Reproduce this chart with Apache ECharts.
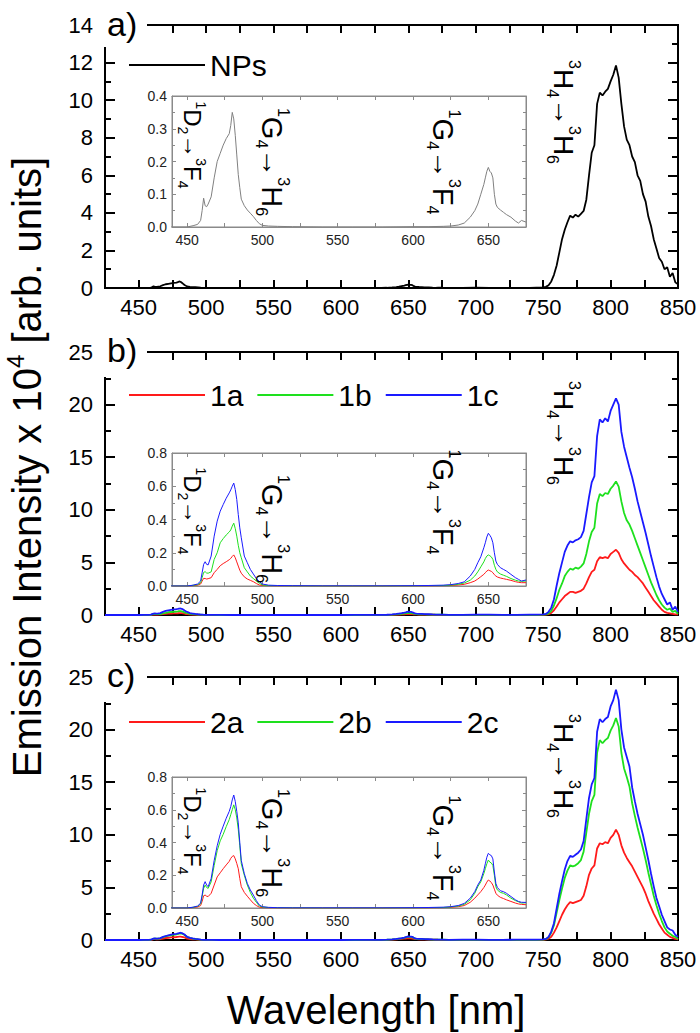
<!DOCTYPE html>
<html><head><meta charset="utf-8">
<script src="https://cdn.jsdelivr.net/npm/echarts@6/dist/echarts.min.js"></script>
<style>html,body{margin:0;padding:0;background:#fff}#c{width:700px;height:1033px}</style>
</head><body><div id="c"></div>
<script>
// ---------- DATA (intensity in units of 10^4) ----------
const visWl = [425, 440, 450, 454, 457, 459, 460, 461, 462, 463, 464, 466, 468, 470, 472, 474, 476, 478, 479, 480, 481,
  482, 483, 484, 485, 486, 488, 490, 492, 494, 496, 498, 500, 504, 510, 520, 540, 560, 580, 600, 610,
  620, 625, 630, 634, 638, 641, 643, 645, 647, 648, 649, 650, 651, 652, 653, 654, 655, 656, 658, 660,
  662, 665, 668, 670, 672, 675];
const nirWl = [680, 690, 700, 710, 720, 730, 740, 745,
  750, 752, 754, 756, 758, 760, 762, 764, 766, 768,
  770, 772, 774, 776, 778, 780, 782, 784, 786, 788,
  790, 792, 794, 796, 798, 800, 802, 804, 806, 808,
  810, 812, 814, 816, 818, 820, 822, 824, 826, 828,
  830, 832, 834, 836, 838, 840, 842, 844, 846, 848,
  850];
const npsVis = [0, 0, 0, 0.004, 0.008, 0.02, 0.05, 0.088, 0.065, 0.062, 0.07, 0.092, 0.15, 0.2, 0.225, 0.25, 0.27, 0.285, 0.31, 0.35, 0.33,
  0.28, 0.22, 0.16, 0.12, 0.085, 0.065, 0.052, 0.042, 0.032, 0.02, 0.01, 0.005, 0.003, 0.002, 0.001, 0, 0, 0, 0.001, 0.001,
  0.002, 0.003, 0.006, 0.012, 0.03, 0.05, 0.07, 0.1, 0.13, 0.15, 0.17, 0.182, 0.17, 0.165, 0.15, 0.1, 0.07, 0.06, 0.052, 0.045,
  0.038, 0.03, 0.018, 0.012, 0.02, 0.015];
const npsNir = [0.01, 0.01, 0.02, 0.01, 0.01, 0.01, 0.01, 0.02,
  0.03, 0.06, 0.15, 0.35, 0.7, 1.2, 1.9, 2.6, 3.1, 3.5,
  3.85, 3.75, 3.9, 3.8, 3.95, 4.1, 4.7, 6.0, 7.2, 7.6,
  9.8, 10.4, 10.25, 10.45, 10.6, 11.0, 11.35, 11.85, 11.2, 9.8,
  8.6, 7.9, 7.6, 7.0, 6.7, 6.0, 5.7, 5.0, 4.6, 3.8,
  3.3, 2.6, 2.1, 1.6, 1.4, 1.0, 1.1, 0.6, 0.8, 0.3,
  0.2];
const s1aVis = [0, 0, 0, 0.002, 0.005, 0.012, 0.03, 0.046, 0.045, 0.042, 0.044, 0.05, 0.08, 0.1, 0.122, 0.135, 0.146, 0.158, 0.166, 0.178, 0.187,
  0.17, 0.145, 0.12, 0.095, 0.077, 0.055, 0.042, 0.034, 0.026, 0.015, 0.006, 0.003, 0.002, 0.001, 0.001, 0, 0, 0, 0.001, 0.001,
  0.002, 0.003, 0.006, 0.01, 0.02, 0.03, 0.042, 0.056, 0.07, 0.08, 0.09, 0.096, 0.092, 0.088, 0.08, 0.068, 0.06, 0.054, 0.048, 0.044,
  0.04, 0.034, 0.026, 0.022, 0.02, 0.02];
const s1aNir = [0.01, 0.01, 0.01, 0.01, 0.01, 0.01, 0.01, 0.01,
  0.02, 0.04, 0.08, 0.2, 0.45, 0.8, 1.2, 1.5, 1.8, 2.0,
  2.2, 2.2, 2.1, 2.2, 2.3, 2.5, 3.0, 3.6, 4.1, 4.3,
  5.1, 5.5, 5.4, 5.5, 5.4, 5.8, 6.0, 6.2, 5.9, 5.3,
  4.9, 4.6, 4.3, 4.1, 3.8, 3.6, 3.3, 3.0, 2.6, 2.2,
  1.8, 1.4, 1.1, 0.8, 0.5, 0.3, 0.2, 0.15, 0.1, 0.05,
  0.05];
const s1bVis = [0, 0, 0, 0.004, 0.008, 0.02, 0.05, 0.082, 0.086, 0.078, 0.077, 0.085, 0.16, 0.2, 0.26, 0.285, 0.307, 0.325, 0.337, 0.36, 0.378,
  0.345, 0.3, 0.245, 0.2, 0.17, 0.11, 0.085, 0.06, 0.045, 0.03, 0.016, 0.006, 0.003, 0.002, 0.001, 0, 0, 0, 0.001, 0.002,
  0.003, 0.005, 0.01, 0.018, 0.035, 0.06, 0.085, 0.115, 0.145, 0.165, 0.18, 0.187, 0.182, 0.175, 0.16, 0.125, 0.1, 0.085, 0.072, 0.065,
  0.058, 0.045, 0.035, 0.03, 0.028, 0.03];
const s1bNir = [0.01, 0.02, 0.02, 0.02, 0.01, 0.02, 0.02, 0.02,
  0.03, 0.06, 0.15, 0.4, 0.9, 1.6, 2.4, 3.0, 3.7, 4.1,
  4.4, 4.3, 4.5, 4.4, 4.6, 4.9, 5.8, 7.0, 7.9, 8.3,
  10.6, 11.5, 11.3, 11.6, 11.5, 12.0, 12.3, 12.7, 12.2, 10.8,
  9.7, 9.0, 8.6, 8.0, 7.3, 6.6, 5.9, 5.2, 4.5, 3.8,
  3.1, 2.5, 1.9, 1.4, 1.0, 0.7, 0.5, 0.6, 0.3, 0.4,
  0.1];
const s1cVis = [0, 0, 0, 0.005, 0.012, 0.03, 0.08, 0.13, 0.146, 0.13, 0.127, 0.18, 0.3, 0.39, 0.45, 0.49, 0.528, 0.56, 0.578, 0.6, 0.619,
  0.58, 0.52, 0.43, 0.35, 0.29, 0.18, 0.14, 0.1, 0.072, 0.045, 0.026, 0.012, 0.005, 0.003, 0.002, 0.001, 0.001, 0.001, 0.002, 0.003,
  0.005, 0.008, 0.015, 0.025, 0.06, 0.1, 0.14, 0.176, 0.23, 0.26, 0.295, 0.317, 0.305, 0.29, 0.26, 0.2, 0.15, 0.13, 0.11, 0.1,
  0.09, 0.07, 0.05, 0.04, 0.03, 0.036];
const s1cNir = [0.02, 0.02, 0.03, 0.03, 0.02, 0.02, 0.03, 0.03,
  0.05, 0.1, 0.3, 0.7, 1.5, 2.8, 4.0, 5.0, 6.0, 6.6,
  7.0, 6.9, 7.1, 7.2, 7.4, 8.0, 9.6, 11.2, 12.6, 13.2,
  17.0, 18.6, 18.3, 18.7, 18.4, 19.4, 20.0, 20.6, 20.0, 17.4,
  16.0, 15.0, 14.0, 13.1, 12.0, 10.8, 9.8, 8.8, 7.8, 6.7,
  5.6, 4.6, 3.6, 2.7, 2.0, 1.5, 1.0, 1.2, 0.5, 0.8,
  0.3];
const s2aVis = [0, 0, 0, 0.003, 0.006, 0.015, 0.04, 0.075, 0.079, 0.072, 0.07, 0.09, 0.14, 0.19, 0.215, 0.24, 0.263, 0.285, 0.303, 0.315, 0.32,
  0.3, 0.272, 0.24, 0.18, 0.13, 0.095, 0.072, 0.05, 0.029, 0.015, 0.005, 0.002, 0.001, 0.001, 0, 0, 0, 0, 0.001, 0.001,
  0.002, 0.004, 0.008, 0.015, 0.035, 0.06, 0.08, 0.1, 0.125, 0.14, 0.158, 0.171, 0.165, 0.155, 0.14, 0.115, 0.09, 0.078, 0.065, 0.058,
  0.05, 0.04, 0.03, 0.025, 0.022, 0.02];
const s2aNir = [0.01, 0.01, 0.01, 0.01, 0.01, 0.01, 0.01, 0.01,
  0.02, 0.05, 0.12, 0.3, 0.7, 1.2, 1.8, 2.4, 2.9, 3.3,
  3.6, 3.5, 3.6, 3.7, 3.8, 4.2, 5.1, 6.2, 6.8, 7.1,
  8.7, 9.2, 9.1, 9.3, 9.2, 9.7, 10.0, 10.5, 10.0, 9.0,
  8.3, 7.8, 7.4, 7.0, 6.5, 6.0, 5.5, 5.0, 4.4, 3.7,
  3.1, 2.5, 2.0, 1.5, 1.1, 0.7, 0.5, 0.3, 0.2, 0.1,
  0.05];
const s2bVis = [0, 0, 0, 0.004, 0.01, 0.025, 0.07, 0.12, 0.14, 0.125, 0.12, 0.16, 0.26, 0.35, 0.41, 0.45, 0.497, 0.54, 0.57, 0.6, 0.63,
  0.6, 0.55, 0.48, 0.38, 0.27, 0.2, 0.14, 0.095, 0.06, 0.035, 0.012, 0.006, 0.003, 0.002, 0.001, 0, 0, 0, 0.001, 0.002,
  0.003, 0.006, 0.012, 0.022, 0.05, 0.09, 0.13, 0.16, 0.21, 0.24, 0.27, 0.293, 0.28, 0.275, 0.26, 0.2, 0.13, 0.11, 0.095, 0.09,
  0.08, 0.06, 0.045, 0.038, 0.03, 0.032];
const s2bNir = [0.02, 0.02, 0.02, 0.02, 0.02, 0.02, 0.02, 0.02,
  0.04, 0.08, 0.25, 0.7, 1.4, 2.6, 3.8, 4.9, 5.9, 6.6,
  7.1, 7.0, 7.1, 7.3, 7.6, 8.4, 10.2, 12.0, 13.2, 13.8,
  17.8, 19.0, 18.7, 19.0, 19.2, 19.9, 20.4, 21.1, 20.3, 17.8,
  16.3, 15.5, 14.6, 13.0, 11.8, 10.7, 9.7, 8.7, 7.6, 6.4,
  5.3, 4.2, 3.3, 2.5, 1.8, 1.2, 0.8, 0.6, 0.4, 0.3,
  0.1];
const s2cVis = [0, 0, 0, 0.005, 0.012, 0.03, 0.08, 0.14, 0.161, 0.14, 0.13, 0.18, 0.29, 0.38, 0.45, 0.5, 0.548, 0.59, 0.619, 0.66, 0.69,
  0.65, 0.59, 0.52, 0.4, 0.29, 0.21, 0.15, 0.11, 0.079, 0.045, 0.018, 0.008, 0.004, 0.002, 0.001, 0.001, 0.001, 0.001, 0.002, 0.003,
  0.005, 0.008, 0.015, 0.028, 0.06, 0.1, 0.14, 0.171, 0.23, 0.27, 0.31, 0.334, 0.325, 0.32, 0.3, 0.22, 0.15, 0.125, 0.105, 0.1,
  0.09, 0.07, 0.05, 0.04, 0.035, 0.034];
const s2cNir = [0.02, 0.03, 0.03, 0.02, 0.02, 0.03, 0.03, 0.03,
  0.05, 0.1, 0.3, 0.8, 1.6, 3.0, 4.4, 5.6, 6.7, 7.5,
  8.0, 7.9, 8.1, 8.3, 8.6, 9.4, 11.5, 13.5, 14.8, 15.4,
  19.8, 21.0, 20.7, 21.0, 21.2, 22.2, 22.8, 23.8, 22.8, 20.0,
  18.3, 17.4, 16.5, 14.5, 13.2, 12.0, 11.0, 10.0, 8.8, 7.6,
  6.3, 5.1, 4.0, 3.2, 2.4, 1.8, 1.2, 1.0, 0.9, 0.5,
  0.3];
const mainXTicks = [450, 500, 550, 600, 650, 700, 750, 800, 850];
const insetXLabels = [450, 500, 550, 600, 650];
const insetXTicks = [450, 475, 500, 525, 550, 575, 600, 625, 650, 675];
const panelLabels = ['a)', 'b)', 'c)'];
const legendA = ['NPs'];
const legendB = ['1a', '1b', '1c'];
const legendC = ['2a', '2b', '2c'];

// ---------- BUILD ----------
const FONT = "'Liberation Sans', Arial, 'DejaVu Sans', sans-serif";
const pairs = (xs, ys) => xs.map((x, i) => [x, ys[i]]);
const full = (v, n) => pairs(visWl, v).concat(pairs(nirWl, n));
const mainGrid = {show: true, borderColor: '#000', borderWidth: 2, backgroundColor: 'transparent'};
const insetGrid = {show: true, borderColor: '#8a8a8a', borderWidth: 1, backgroundColor: 'transparent'};
const grids = [
  Object.assign({left: 105, top: 25, width: 573, height: 263}, mainGrid),
  Object.assign({left: 105, top: 352, width: 573, height: 263}, mainGrid),
  Object.assign({left: 105, top: 677, width: 573, height: 263}, mainGrid),
  Object.assign({left: 172, top: 96, width: 354, height: 131}, insetGrid),
  Object.assign({left: 172, top: 453, width: 354, height: 133}, insetGrid),
  Object.assign({left: 172, top: 777, width: 354, height: 131}, insetGrid)
];
const xAxes = [], yAxes = [];
function mainAxes(gi, ymax, yint) {
  ['bottom', 'top'].forEach(pos => xAxes.push({
    type: 'value', gridIndex: gi, position: pos, min: 425, max: 850, interval: 25,
    axisLine: {show: true, onZero: false, lineStyle: {color: '#000', width: 2, opacity: 1}},
    axisTick: {show: true, inside: true, length: 8, lineStyle: {color: '#000', width: 2, opacity: 1}},
    axisLabel: {show: pos === 'bottom', fontSize: 22, color: '#000', margin: 8, fontFamily: FONT,
      formatter: v => mainXTicks.indexOf(v) >= 0 ? String(v) : ''},
    splitLine: {show: false}
  }));
  ['left', 'right'].forEach(pos => yAxes.push({
    type: 'value', gridIndex: gi, position: pos, min: 0, max: ymax, interval: yint,
    axisLine: {show: true, onZero: false, lineStyle: {color: '#000', width: 2, opacity: 1}},
    axisTick: {show: true, inside: true, length: 10, lineStyle: {color: '#000', width: 2, opacity: 1}},
    minorTick: {show: true, splitNumber: 2, length: 6, lineStyle: {color: '#000', width: 2, opacity: 1}},
    axisLabel: {show: pos === 'left', fontSize: 22, color: '#000', margin: 12, fontFamily: FONT},
    splitLine: {show: false}
  }));
}
function insetAxes(gi, ymax, yint) {
  ['bottom', 'top'].forEach(pos => xAxes.push({
    type: 'value', gridIndex: gi, position: pos, min: 440, max: 675,
    axisLine: {show: true, onZero: false, lineStyle: {color: '#8a8a8a', width: 1}},
    axisTick: {show: true, inside: true, length: 4, customValues: insetXTicks, lineStyle: {color: '#8a8a8a', width: 1}},
    axisLabel: {show: pos === 'bottom', customValues: insetXLabels, fontSize: 14, color: '#222', margin: 6, fontFamily: FONT},
    splitLine: {show: false}
  }));
  ['left', 'right'].forEach(pos => yAxes.push({
    type: 'value', gridIndex: gi, position: pos, min: 0, max: ymax, interval: yint,
    axisLine: {show: true, onZero: false, lineStyle: {color: '#8a8a8a', width: 1}},
    axisTick: {show: true, inside: true, length: 4, lineStyle: {color: '#8a8a8a', width: 1}},
    minorTick: {show: true, splitNumber: 2, length: 3, lineStyle: {color: '#8a8a8a', width: 1}},
    axisLabel: {show: pos === 'left', fontSize: 14, color: '#222', margin: 5, fontFamily: FONT,
      formatter: v => v.toFixed(1)},
    splitLine: {show: false}
  }));
}
mainAxes(0, 14, 2); mainAxes(1, 25, 5); mainAxes(2, 25, 5);
insetAxes(3, 0.4, 0.1); insetAxes(4, 0.8, 0.2); insetAxes(5, 0.8, 0.2);

const RED = '#ff1a1a', GREEN = '#1ee01e', BLUE = '#1a1aff';
function line(name, gi, data, color, width) {
  return {name, type: 'line', xAxisIndex: gi * 2, yAxisIndex: gi * 2, data, showSymbol: false, symbol: 'none',
    lineStyle: {color, width}, itemStyle: {color}, silent: true};
}
const series = [
  line('NPs', 0, full(npsVis, npsNir), '#000', 1.8),
  line('1a', 1, full(s1aVis, s1aNir), RED, 1.8),
  line('1b', 1, full(s1bVis, s1bNir), GREEN, 1.8),
  line('1c', 1, full(s1cVis, s1cNir), BLUE, 1.8),
  line('2a', 2, full(s2aVis, s2aNir), RED, 1.8),
  line('2b', 2, full(s2bVis, s2bNir), GREEN, 1.8),
  line('2c', 2, full(s2cVis, s2cNir), BLUE, 1.8),
  line('NPs inset', 3, pairs(visWl, npsVis), '#808080', 1),
  line('1a inset', 4, pairs(visWl, s1aVis), RED, 1),
  line('1b inset', 4, pairs(visWl, s1bVis), GREEN, 1),
  line('1c inset', 4, pairs(visWl, s1cVis), BLUE, 1),
  line('2a inset', 5, pairs(visWl, s2aVis), RED, 1),
  line('2b inset', 5, pairs(visWl, s2bVis), GREEN, 1),
  line('2c inset', 5, pairs(visWl, s2cVis), BLUE, 1)
];
function legend(data, top) {
  return {data, left: 124, top, itemWidth: 76, itemHeight: 2, icon: 'rect', itemGap: 14, selectedMode: false,
    textStyle: {fontSize: 30, color: '#000', fontFamily: FONT}};
}
const richT = (big, small, lh) => ({
  m: {fontSize: big, lineHeight: lh, fontFamily: FONT, color: '#000'},
  sup: {fontSize: small, lineHeight: small + 2, verticalAlign: 'top', fontFamily: FONT, color: '#000'},
  sub: {fontSize: small, lineHeight: small + 2, verticalAlign: 'bottom', fontFamily: FONT, color: '#000'}
});
function trans(txt, x, y, big, small, lh) {
  return {type: 'text', x, y, rotation: -Math.PI / 2, z: 60, silent: true,
    style: {text: txt, rich: richT(big, small, lh), align: 'center', verticalAlign: 'middle', fill: '#000'}};
}
const H4H6 = '{sup|3}{m|H}{sub|4}{m|→}{sup|3}{m|H}{sub|6}';
const D2F4 = '{sup|1}{m|D}{sub|2}{m|→}{sup|3}{m|F}{sub|4}';
const G4H6 = '{sup|1}{m|G}{sub|4}{m|→}{sup|3}{m|H}{sub|6}';
const G4F4 = '{sup|1}{m|G}{sub|4}{m|→}{sup|3}{m|F}{sub|4}';
const labelBoxes = [[4, 47], [330, 377], [655, 702]];
const labelY = [24, 350, 675];
const graphic = [];
labelBoxes.forEach((b, i) => {
  graphic.push({type: 'rect', z: 50, silent: true, shape: {x: 98, y: b[0], width: 49, height: b[1] - b[0]}, style: {fill: '#fff'}});
  graphic.push({type: 'text', z: 51, silent: true, x: 107, y: labelY[i],
    style: {text: panelLabels[i], fontSize: 34, fontFamily: FONT, fill: '#000', align: 'left', verticalAlign: 'middle'}});
});
graphic.push(trans(H4H6, 563, 112, 28, 16, 38));
graphic.push(trans(H4H6, 563, 433, 28, 16, 38));
graphic.push(trans(H4H6, 563, 766, 28, 16, 38));
[[145, 162, 162], [511, 529, 502], [831, 843, 848]].forEach(r => {
  graphic.push(trans(D2F4, 192, r[0], 24, 14, 32));
  graphic.push(trans(G4H6, 272, r[1], 29, 16, 38));
  graphic.push(trans(G4F4, 443, r[2], 29, 16, 38));
});
graphic.push({type: 'text', x: 27, y: 467, rotation: Math.PI / 2, z: 60, silent: true,
  style: {text: '{m|Emission Intensity x 10}{sup|4}{m| [arb. units]}',
    rich: {m: {fontSize: 40, lineHeight: 48, fontFamily: FONT, color: '#000'},
           sup: {fontSize: 24, lineHeight: 26, verticalAlign: 'top', fontFamily: FONT, color: '#000'}},
    align: 'center', verticalAlign: 'middle'}});
graphic.push({type: 'text', x: 376, y: 1010, z: 60, silent: true,
  style: {text: 'Wavelength [nm]', fontSize: 40, fontFamily: FONT, fill: '#000', align: 'center', verticalAlign: 'middle'}});

const chart = echarts.init(document.getElementById('c'), null, {renderer: 'svg', width: 700, height: 1033});
chart.setOption({
  animation: false, textStyle: {fontFamily: FONT},
  grid: grids, xAxis: xAxes, yAxis: yAxes,
  legend: [legend(legendA, 45), legend(legendB, 375), legend(legendC, 702)],
  series, graphic
});
</script></body></html>
